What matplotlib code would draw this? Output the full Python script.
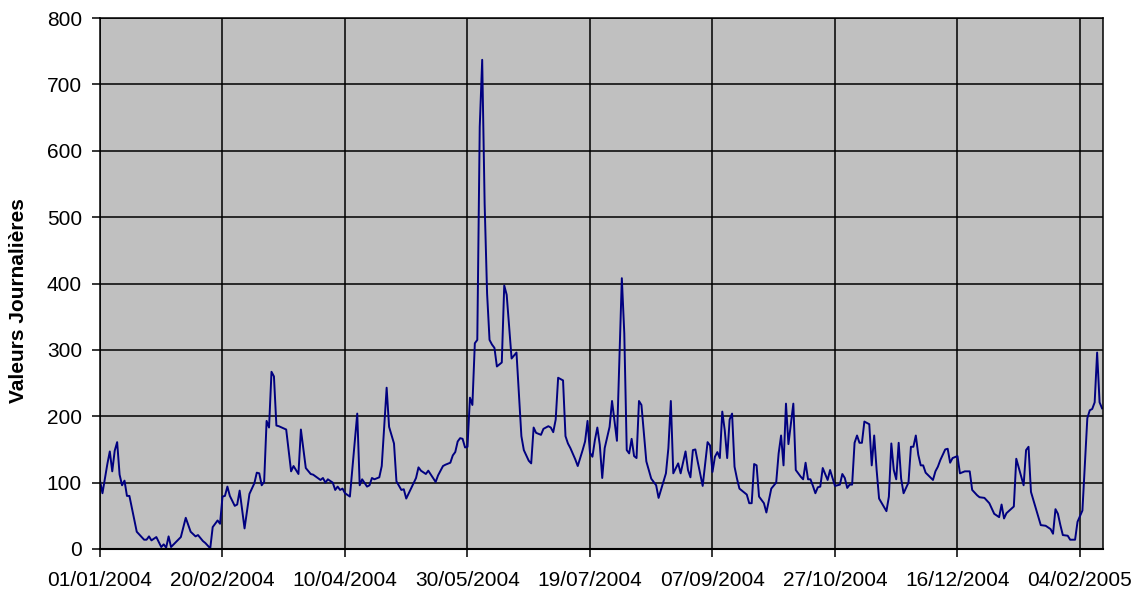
import numpy as np
import pandas as pd
import matplotlib
matplotlib.use('Agg')
import matplotlib.pyplot as plt
import matplotlib.dates as mdates

plt.rcParams['font.family'] = ['Liberation Sans', 'DejaVu Sans']

# day offset from 01/01/2004 and daily value (turning points)
days = [0, 1, 3, 4, 5, 6, 7, 8, 9, 10, 11, 12, 15, 18, 19, 20, 21, 23, 25, 26,
        27, 28, 29, 33, 35, 37, 39, 40, 42, 43, 45, 46, 48, 49, 50, 51, 52, 53, 55, 56,
        57, 59, 61, 63, 64, 65, 66, 67, 68, 69, 70, 71, 72, 73, 76, 78, 79, 81, 82, 84,
        86, 87, 90, 91, 92, 93, 95, 96, 97, 98, 99, 100, 102, 105, 106, 107, 109, 110, 111, 112,
        114, 115, 117, 118, 120, 121, 123, 124, 125, 128, 129, 130, 131, 133, 134, 137, 138, 140, 141, 143,
        144, 145, 146, 147, 148, 149, 150, 151, 152, 153, 154, 155, 156, 157, 158, 159, 160, 161, 162, 164,
        165, 166, 167, 168, 170, 172, 173, 175, 176, 177, 178, 180, 181, 183, 184, 185, 186, 187, 189, 190,
        191, 192, 194, 195, 197, 198, 199, 200, 201, 202, 203, 204, 205, 206, 208, 209, 211, 213, 214, 215,
        216, 217, 218, 219, 220, 221, 223, 225, 227, 228, 231, 232, 233, 234, 236, 237, 239, 240, 241, 242,
        243, 244, 246, 248, 249, 250, 251, 252, 253, 254, 255, 256, 257, 258, 259, 260, 261, 264, 265, 266,
        267, 268, 269, 271, 272, 274, 276, 277, 278, 279, 280, 281, 283, 284, 286, 287, 288, 289, 290, 291,
        292, 293, 294, 295, 297, 298, 300, 302, 303, 304, 305, 306, 307, 308, 309, 310, 311, 312, 314, 315,
        316, 317, 318, 321, 322, 323, 324, 325, 326, 327, 328, 330, 331, 332, 333, 334, 335, 336, 337, 340,
        341, 342, 343, 345, 346, 347, 348, 350, 351, 353, 355, 356, 358, 359, 361, 363, 365, 367, 368, 369,
        370, 373, 374, 376, 377, 378, 379, 380, 382, 384, 386, 388, 389, 390, 391, 392, 393, 395, 396, 398,
        399, 401, 403, 404, 405, 406, 407, 408, 409]
valeurs = [103, 84, 128, 147, 117, 148, 161, 112, 96, 103, 80, 80, 26, 14, 14, 19, 13, 18, 3, 7,
           2, 19, 3, 18, 47, 26, 19, 21, 12, 9, 1, 33, 43, 38, 79, 80, 94, 80, 65, 67,
           88, 31, 83, 99, 115, 114, 96, 101, 193, 183, 267, 260, 186, 185, 180, 117, 125, 113, 180, 122,
           113, 112, 104, 107, 100, 105, 100, 89, 94, 89, 91, 84, 79, 204, 96, 105, 94, 96, 107, 105,
           108, 125, 243, 184, 159, 102, 89, 90, 76, 99, 107, 123, 118, 113, 118, 101, 111, 125, 127, 130,
           141, 146, 162, 167, 166, 153, 154, 228, 217, 310, 315, 636, 737, 520, 385, 315, 308, 303, 275, 281,
           397, 383, 334, 287, 296, 170, 149, 133, 129, 183, 175, 172, 181, 185, 183, 176, 195, 258, 254, 170,
           159, 152, 135, 125, 149, 162, 193, 145, 139, 164, 183, 157, 107, 152, 184, 223, 163, 408, 325, 149,
           144, 166, 140, 137, 223, 217, 132, 106, 96, 77, 114, 152, 223, 114, 129, 114, 147, 119, 108, 149,
           150, 131, 95, 161, 156, 116, 139, 146, 137, 207, 179, 137, 195, 204, 124, 106, 91, 82, 69, 69,
           128, 126, 79, 69, 55, 91, 100, 144, 171, 126, 219, 158, 219, 119, 109, 105, 130, 105, 105, 95,
           84, 93, 94, 122, 104, 119, 95, 97, 113, 107, 92, 97, 97, 160, 171, 160, 160, 192, 188, 126,
           171, 119, 76, 57, 79, 159, 119, 105, 160, 106, 84, 100, 154, 154, 171, 142, 126, 126, 115, 104,
           117, 124, 134, 150, 151, 130, 137, 140, 114, 117, 117, 89, 81, 78, 77, 69, 53, 48, 67, 46,
           54, 64, 136, 109, 96, 149, 154, 86, 61, 36, 35, 30, 23, 60, 53, 36, 21, 20, 14, 14,
           41, 58, 197, 209, 211, 221, 296, 221, 212]

debut = pd.Timestamp('2004-01-01')
dates = debut + pd.to_timedelta(days, unit='D')
ticks = pd.date_range(debut, periods=9, freq='50D')

fig = plt.figure(figsize=(11.46, 5.96), dpi=100)
ax = fig.add_axes([100 / 1146, 1 - 549 / 596, 1003 / 1146, 531 / 596])
ax.set_facecolor('#C0C0C0')

ax.plot(dates, valeurs, color='#000080', linewidth=1.4)

ax.set_ylim(0, 800)
ax.set_yticks(range(0, 801, 100))
ax.set_xlim(debut, debut + pd.Timedelta(days=409.4))
ax.set_xticks(ticks)
ax.xaxis.set_major_formatter(mdates.DateFormatter('%d/%m/%Y'))

ax.grid(True, color='black', linewidth=1.1)
ax.set_axisbelow(True)
for s in ax.spines.values():
    s.set_color('black')
    s.set_linewidth(1.1)
ax.spines['bottom'].set_linewidth(1.5)

ax.tick_params(axis='both', labelsize=15, length=6, width=1.1, color='black')
ax.tick_params(axis='y', pad=7)
ax.tick_params(axis='x', pad=10)
ax.set_ylabel('Valeurs Journalières', fontsize=15, fontweight='bold')
ax.yaxis.set_label_coords(-0.072, 0.467)

fig.savefig('out.png', dpi=100)
